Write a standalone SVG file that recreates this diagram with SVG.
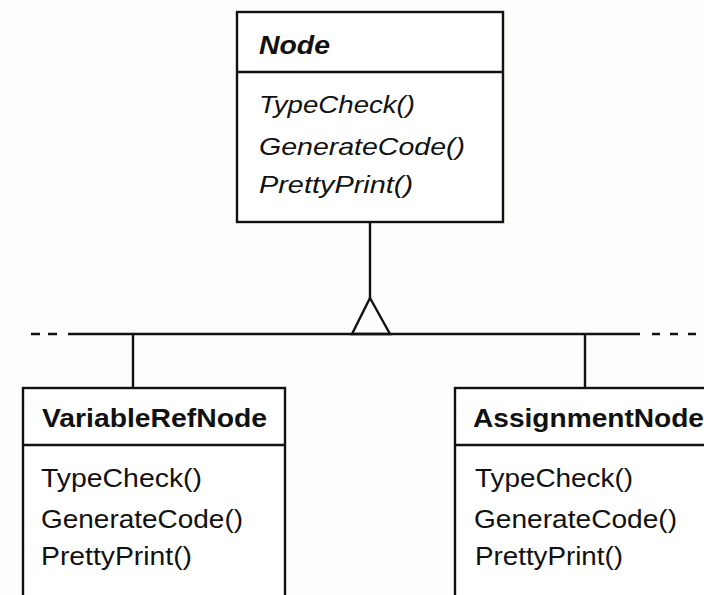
<svg xmlns="http://www.w3.org/2000/svg" width="704" height="595" viewBox="0 0 704 595">
<style>
.box{fill:#fff;stroke:#111;stroke-width:2.4}
.ln{stroke:#111;stroke-width:2.4;fill:none}
.t{font-family:"Liberation Sans",Arial,sans-serif;fill:#111}
.m{font-size:25px}
.mi{font-size:24px;font-style:italic}
.h{font-size:26px;font-weight:bold}
.hi{font-size:25px;font-weight:bold;font-style:italic}
</style>
<rect width="704" height="595" fill="#fdfdfc"/>
<g id="connectors">
<line class="ln" x1="370" y1="222" x2="370" y2="298"/>
<polygon class="ln" points="370,298 352,334 390,334" fill="#fff"/>
<line class="ln" x1="68" y1="334" x2="640" y2="334"/>
<line class="ln" x1="31" y1="334" x2="58" y2="334" stroke-dasharray="9,8"/>
<line class="ln" x1="652" y1="334" x2="700" y2="334" stroke-dasharray="8,10"/>
<line class="ln" x1="133" y1="334" x2="133" y2="388"/>
<line class="ln" x1="585" y1="334" x2="585" y2="388"/>
</g>
<g id="node-Node">
<rect class="box" x="237" y="12" width="266" height="210"/>
<line class="ln" x1="237" y1="72" x2="503" y2="72"/>
<text class="t hi" x="259" y="54" textLength="71" lengthAdjust="spacingAndGlyphs">Node</text>
<text class="t mi" x="259" y="113" textLength="156" lengthAdjust="spacingAndGlyphs">TypeCheck()</text>
<text class="t mi" x="259" y="155" textLength="206" lengthAdjust="spacingAndGlyphs">GenerateCode()</text>
<text class="t mi" x="259" y="193" textLength="154" lengthAdjust="spacingAndGlyphs">PrettyPrint()</text>
</g>
<g id="node-VariableRefNode">
<rect class="box" x="23" y="388" width="262" height="220"/>
<line class="ln" x1="23" y1="445" x2="285" y2="445"/>
<text class="t h" x="42" y="427" textLength="225" lengthAdjust="spacingAndGlyphs">VariableRefNode</text>
<text class="t m" x="41" y="487" textLength="161" lengthAdjust="spacingAndGlyphs">TypeCheck()</text>
<text class="t m" x="41" y="528" textLength="202" lengthAdjust="spacingAndGlyphs">GenerateCode()</text>
<text class="t m" x="41" y="565" textLength="151" lengthAdjust="spacingAndGlyphs">PrettyPrint()</text>
</g>
<g id="node-AssignmentNode">
<rect class="box" x="455" y="388" width="262" height="220"/>
<line class="ln" x1="455" y1="445" x2="717" y2="445"/>
<text class="t h" x="473" y="427" textLength="231" lengthAdjust="spacingAndGlyphs">AssignmentNode</text>
<text class="t m" x="475" y="487" textLength="158" lengthAdjust="spacingAndGlyphs">TypeCheck()</text>
<text class="t m" x="474" y="528" textLength="203" lengthAdjust="spacingAndGlyphs">GenerateCode()</text>
<text class="t m" x="475" y="565" textLength="148" lengthAdjust="spacingAndGlyphs">PrettyPrint()</text>
</g>
</svg>
